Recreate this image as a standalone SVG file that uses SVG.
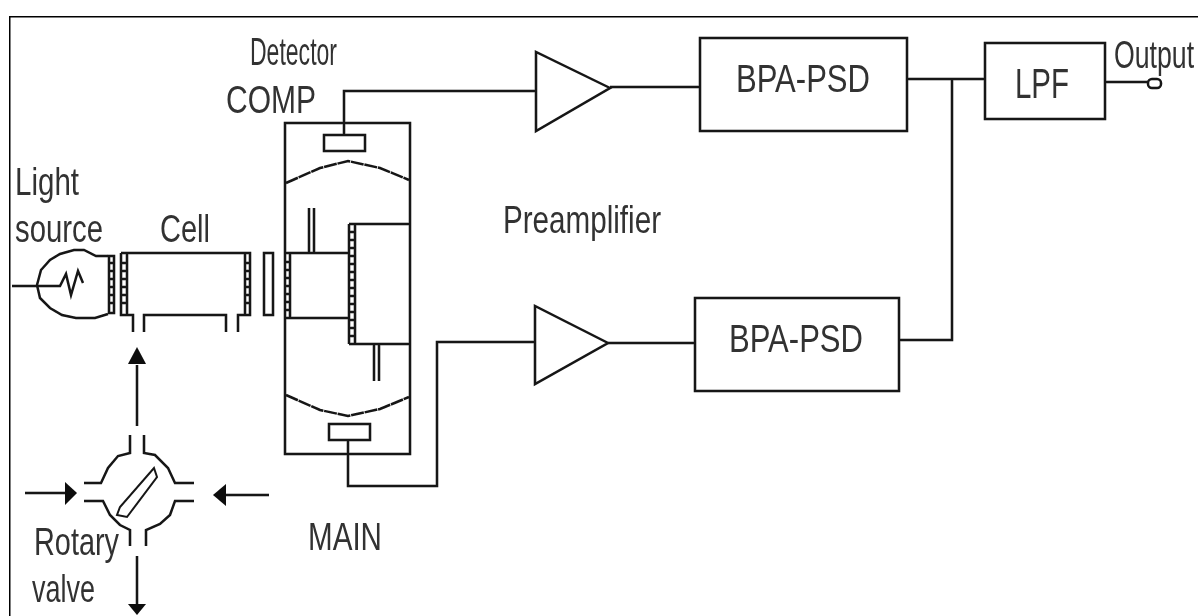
<svg xmlns="http://www.w3.org/2000/svg" width="1198" height="616" viewBox="0 0 1198 616">
<defs><filter id="soft" x="0" y="0" width="100%" height="100%"><feGaussianBlur stdDeviation="0.45"/></filter></defs>
<style>
.l{fill:none;stroke:#161616;stroke-width:2.5}
.t{font-family:"Liberation Sans",Arial,sans-serif;font-size:39px;fill:#333}
.a{fill:#0a0a0a;stroke:none}
.d{stroke-dasharray:13 .8}
.r{stroke-width:2.6}
</style>
<rect width="1198" height="616" fill="#fff"/>
<g filter="url(#soft)">
<path d="M9 616V16H1198" fill="none" stroke="#000" stroke-width="3"/>
<g id="connectors" class="l">
<path d="M344 135V91H536"/><path d="M610 87H700"/><path d="M907 79H985"/><path d="M952 79V340H899"/>
<path d="M608 343H695"/><path d="M348 440V486H437V342H535"/><path d="M1105 82H1148"/>
<path d="M137 426V365"/><path d="M137 556V604"/><path d="M25 493H70"/><path d="M269 495H222"/>
</g>
<g id="arrowheads">
<path class="a" d="M137 347L128 364H146Z"/><path class="a" d="M137 615L128 604H146Z"/><path class="a" d="M77 493L65 482V505Z"/><path class="a" d="M213 495L226 484V506Z"/>
</g>
<g id="light-source" class="l">
<path d="M108 256H96L84 250H74L60 254L50 260L41 270L37 285L40 298L50 308L62 315L76 318H95L108 314"/>
<path d="M12 286H60L66 274L71 295L78 271L83 283"/>
<rect x="109" y="256" width="5" height="57"/><path class="r" d="M109 263H114M109 271H114M109 279H114M109 287H114M109 295H114M109 303H114"/>
</g>
<g id="cell" class="l">
<path d="M121 253H250V315H238V332M226 332V315H144V332M133 332V315H121V253"/>
<path d="M127 253V315M245 253V315"/><path class="r" d="M121 263H127M121 271H127M121 279H127M121 287H127M121 295H127M121 303H127M245 263H250M245 271H250M245 279H250M245 287H250M245 295H250M245 303H250"/>
<rect x="264" y="253" width="9" height="62"/>
</g>
<g id="detector-block" class="l">
<rect x="285" y="123" width="125" height="331"/>
<rect x="324" y="135" width="41" height="16"/><rect x="329" y="424" width="41" height="16"/>
<path class="d" d="M286 183L320 168L348 161L380 168L409 180"/><path class="d" d="M286 395L320 410L348 416L380 409L409 397"/>
<path d="M285 253H349M285 318H349M349 224H409M349 344H409M290 253V318M349 224V344M355 224V344"/>
<path class="r" d="M285 262H290M285 270H290M285 278H290M285 286H290M285 294H290M285 302H290M285 310H290"/>
<path class="r" d="M349 232H355M349 240H355M349 248H355M349 256H355M349 264H355M349 272H355M349 280H355M349 288H355M349 296H355M349 304H355M349 312H355M349 320H355M349 328H355M349 336H355"/>
<path d="M309 208V253M314 208V253M374 345V381M379 345V381"/>
</g>
<g id="preamp-top"><path class="l" d="M536 52V131L610 88Z"/></g>
<g id="preamp-bottom"><path class="l" d="M535 306V384L608 343Z"/></g>
<g id="bpa-top"><rect class="l" x="700" y="38" width="207" height="93"/><text class="t" x="736" y="92" textLength="134" lengthAdjust="spacingAndGlyphs">BPA-PSD</text></g>
<g id="bpa-bottom"><rect class="l" x="695" y="298" width="204" height="93"/><text class="t" x="729" y="352" textLength="134" lengthAdjust="spacingAndGlyphs">BPA-PSD</text></g>
<g id="lpf"><rect class="l" x="985" y="43" width="120" height="76"/><text class="t" x="1015" y="98" textLength="54" lengthAdjust="spacingAndGlyphs" style="font-size:42px">LPF</text></g>
<g id="output"><rect class="l" x="1148" y="79" width="13" height="9" rx="4"/><text class="t" transform="translate(1114 68) scale(.684 1)">Output</text></g>
<g id="rotary-valve" class="l">
<path d="M130 435V453L118 456L108 468L101 483H84"/>
<path d="M144 435V453L155 455L168 468L175 483H194"/>
<path d="M84 501H103L110 515L120 525L130 530V546"/>
<path d="M194 501H175L170 515L160 524L146 530V546"/>
<path d="M154 468L157 477L127 517L117 515L120 507Z" stroke-width="2"/>
</g>
<g id="labels">
<text class="t" x="250" y="65" textLength="87" lengthAdjust="spacingAndGlyphs">Detector</text>
<text class="t" x="226" y="113" textLength="90" lengthAdjust="spacingAndGlyphs">COMP</text>
<text class="t" x="15" y="195" textLength="64" lengthAdjust="spacingAndGlyphs">Light</text>
<text class="t" x="15" y="242" textLength="88" lengthAdjust="spacingAndGlyphs">source</text>
<text class="t" x="160" y="242" textLength="50" lengthAdjust="spacingAndGlyphs">Cell</text>
<text class="t" x="503" y="233" textLength="158" lengthAdjust="spacingAndGlyphs">Preamplifier</text>
<text class="t" x="34" y="555" textLength="85" lengthAdjust="spacingAndGlyphs">Rotary</text>
<text class="t" x="32" y="602" textLength="63" lengthAdjust="spacingAndGlyphs">valve</text>
<text class="t" x="308" y="550" textLength="74" lengthAdjust="spacingAndGlyphs">MAIN</text>
</g>
</g>
</svg>
